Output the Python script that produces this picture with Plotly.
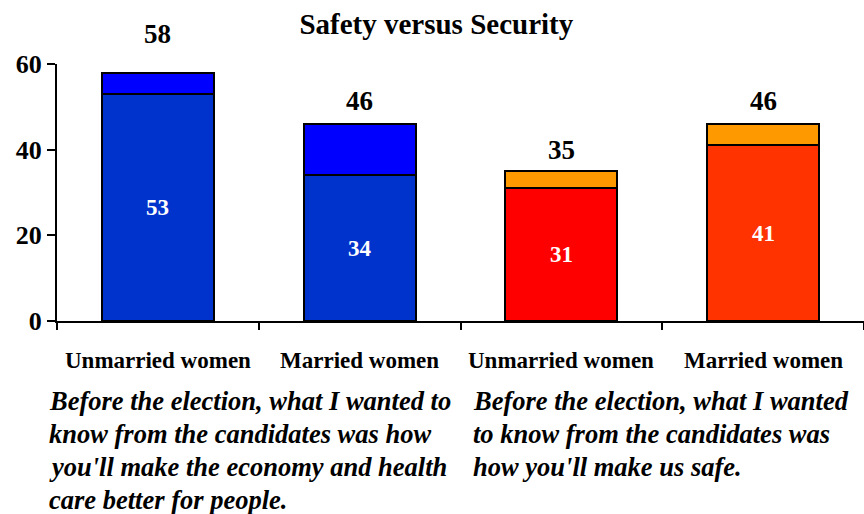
import plotly.graph_objects as go

# Survey results: share agreeing with each statement, by marital status
groups = ["Unmarried women", "Married women", "Unmarried women", "Married women"]
strong_share = [53, 34, 31, 41]      # lower segment (labelled inside the bar)
total_share = [58, 46, 35, 46]       # full bar height (labelled above the bar)
statements = [
    ["Before the election, what I wanted to",
     "know from the candidates was how",
     "you'll make the economy and health",
     "care better for people."],
    ["Before the election, what I wanted",
     "to know from the candidates was",
     "how you'll make us safe."],
]
y_ticks = [0, 20, 40, 60]

lower_colors = ["#0033CC", "#0033CC", "#FF0000", "#FF3300"]
upper_colors = ["#0000FF", "#0000FF", "#FF9900", "#FF9900"]
FONT = "Liberation Serif, Times New Roman, serif"

x = list(range(len(groups)))
upper_part = [t - s for t, s in zip(total_share, strong_share)]

fig = go.Figure()
fig.add_trace(go.Bar(
    x=x, y=strong_share, width=0.555,
    marker=dict(color=lower_colors, line=dict(color="black", width=2)),
    hoverinfo="skip",
))
fig.add_trace(go.Bar(
    x=x, y=upper_part, width=0.555,
    marker=dict(color=upper_colors, line=dict(color="black", width=2)),
    hoverinfo="skip",
))

annotations = []
# white value labels centred in the lower segment
for xi, v in zip(x, strong_share):
    annotations.append(dict(
        x=xi, y=v / 2, xref="x", yref="y", text=f"<b>{v}</b>",
        showarrow=False, font=dict(family=FONT, size=23, color="white"),
    ))
# totals above each bar
label_lift = [39, 23, 21, 23]
for xi, v, lift in zip(x, total_share, label_lift):
    annotations.append(dict(
        x=xi, y=v, xref="x", yref="y", text=f"<b>{v}</b>",
        showarrow=False, yshift=lift, yanchor="middle",
        font=dict(family=FONT, size=27, color="black"),
    ))
# group labels below the axis
for xi, g in zip(x, groups):
    annotations.append(dict(
        x=xi, y=0, xref="x", yref="paper", text=f"<b>{g}</b>",
        showarrow=False, yshift=-39, yanchor="middle",
        font=dict(family=FONT, size=23, color="black"),
    ))
# statement text under each pair of groups
for block, x0, dx in [(statements[0], 0.0, -10), (statements[1], 0.5, 10)]:
    for i, line in enumerate(block):
        annotations.append(dict(
            x=x0, y=0, xref="paper", yref="paper", text=f"<b><i>{line}</i></b>",
            showarrow=False, xanchor="left", yanchor="middle",
            xshift=dx, yshift=-80 - 33 * i,
            font=dict(family=FONT, size=26.5, color="black"),
        ))

fig.update_layout(
    width=864, height=514,
    barmode="stack", showlegend=False,
    plot_bgcolor="white", paper_bgcolor="white",
    margin=dict(l=57, r=0, t=64, b=193),
    title=dict(
        text="<b>Safety versus Security</b>", xref="container", x=0.505,
        y=0.953, yanchor="middle", xanchor="center",
        font=dict(family=FONT, size=29, color="black"),
    ),
    xaxis=dict(
        range=[-0.5, 3.5], tickvals=[-0.5, 0.5, 1.5, 2.5, 3.5],
        showticklabels=False, ticks="outside", ticklen=7, tickwidth=2,
        tickcolor="black", showline=True, linecolor="black", linewidth=2,
        showgrid=False, zeroline=False,
    ),
    yaxis=dict(
        range=[0, 60], tickvals=y_ticks, ticks="outside", ticklen=8,
        tickwidth=2, tickcolor="black", showline=True, linecolor="black",
        linewidth=2, showgrid=False, zeroline=False,
        tickfont=dict(family=FONT, size=26, color="black", weight="bold"),
    ),
    annotations=annotations,
)

fig.write_html("out.html")
